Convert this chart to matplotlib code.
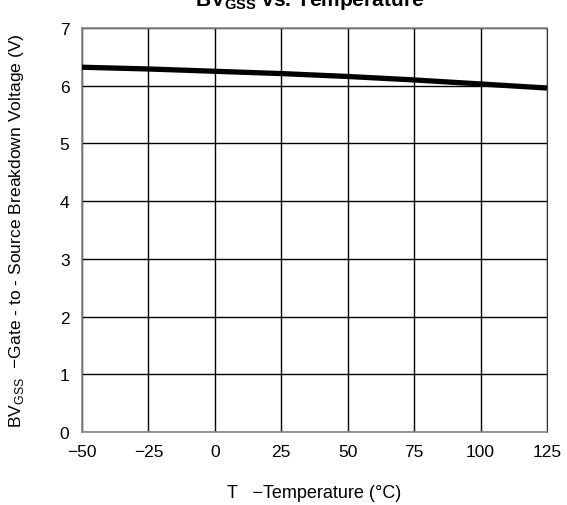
import matplotlib
matplotlib.use('Agg')
import matplotlib.pyplot as plt

plt.rcParams['font.family'] = ['Liberation Sans', 'DejaVu Sans']

# Temperature (C) and breakdown voltage (V)
temp = [-50, -25, 0, 25, 50, 75, 100, 125]
bvgss = [6.32, 6.29, 6.25, 6.21, 6.16, 6.10, 6.03, 5.96]

xticks = [-50, -25, 0, 25, 50, 75, 100, 125]
xticklabels = ['\u221250', '\u221225', '0', '25', '50', '75', '100', '125']
yticks = [0, 1, 2, 3, 4, 5, 6, 7]

fig = plt.figure(figsize=(5.67, 5.06), dpi=100)
ax = fig.add_axes([0.1446, 0.1443, 0.8201, 0.7984])

ax.plot(temp, bvgss, color='black', linewidth=3.8, solid_capstyle='butt', zorder=3)

ax.set_xlim(-50, 125)
ax.set_ylim(0, 7)
ax.set_xticks(xticks)
ax.set_xticklabels(xticklabels)
ax.set_yticks(yticks)
ax.tick_params(length=0, labelsize=12.5, pad=9)
ax.grid(True, color='black', linewidth=1.0)
for s in ['left', 'bottom', 'top']:
    ax.spines[s].set_color('#888888')
    ax.spines[s].set_linewidth(1.2)
ax.spines['right'].set_color('#333333')

ax.set_xlabel('T   \u2212Temperature (\u00b0C)', fontsize=13, labelpad=18)
ax.set_ylabel('BV$_{\\mathregular{GSS}}$  \u2212Gate - to - Source Breakdown Voltage (V)',
              fontsize=12.6, labelpad=24)
fig.text(0.546, 0.999, 'BV$_{\\mathregular{GSS}}$ vs. Temperature', fontsize=15,
         fontweight='bold', ha='center', va='center')

fig.savefig('out.png', dpi=100)
